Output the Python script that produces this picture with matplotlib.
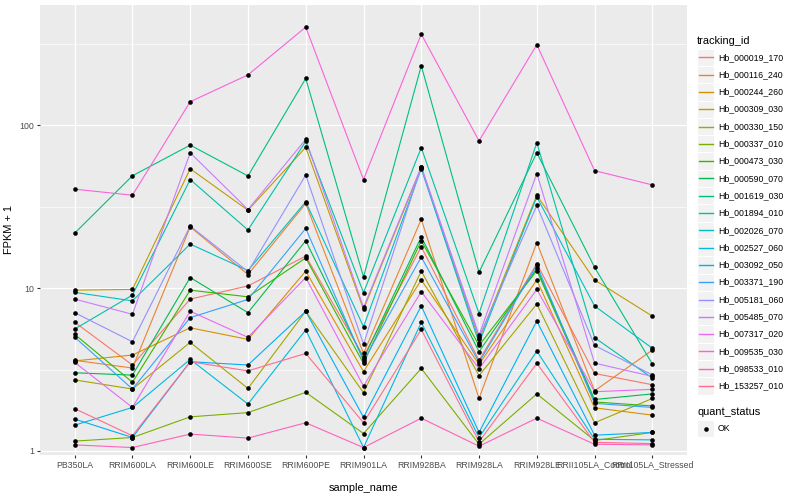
import matplotlib.pyplot as plt
from matplotlib.patches import Rectangle

# sample names on the x axis
samples = ["PB350LA", "RRIM600LA", "RRIM600LE", "RRIM600SE", "RRIM600PE",
           "RRIM901LA", "RRIM928BA", "RRIM928LA", "RRIM928LE",
           "RRII105LA_Control", "RRII105LA_Stressed"]

tracking_ids = ["Hb_000019_170", "Hb_000116_240", "Hb_000244_260", "Hb_000309_030",
                "Hb_000330_150", "Hb_000337_010", "Hb_000473_030", "Hb_000590_070",
                "Hb_001619_030", "Hb_001894_010", "Hb_002026_070", "Hb_002527_060",
                "Hb_003092_050", "Hb_003371_190", "Hb_005181_060", "Hb_005485_070",
                "Hb_007317_020", "Hb_009535_030", "Hb_098533_010", "Hb_153257_010"]

# FPKM + 1, one list per gene (same order as samples)
hb_000019_170 = [6.17, 3.37, 8.55, 10.3, 15.7, 3.79, 17.9, 3.6, 14.1, 2.99, 2.55]
hb_000116_240 = [3.6, 3.23, 23.7, 12.1, 33.0, 3.97, 26.4, 2.1, 19.0, 2.34, 4.16]
hb_000244_260 = [3.57, 3.88, 5.7, 4.84, 12.7, 3.07, 11.2, 3.4, 11.2, 1.84, 1.66]
hb_000309_030 = [9.7, 9.8, 53.9, 30.0, 73.0, 7.4, 54.7, 4.84, 37.1, 11.2, 6.72]
hb_000330_150 = [2.73, 2.4, 4.64, 2.42, 7.2, 2.28, 12.7, 2.9, 7.98, 1.49, 2.1]
hb_000337_010 = [1.15, 1.21, 1.62, 1.72, 2.29, 1.28, 3.21, 1.1, 2.24, 1.16, 1.3]
hb_000473_030 = [5.2, 2.64, 9.7, 8.83, 15.3, 3.45, 19.5, 4.44, 12.8, 2.0, 1.89]
hb_000590_070 = [3.02, 2.92, 11.6, 7.06, 19.5, 3.68, 20.6, 4.07, 13.2, 2.07, 2.24]
hb_001619_030 = [21.7, 48.8, 75.3, 48.7, 193.0, 11.7, 231.0, 12.5, 67.6, 13.4, 3.42]
hb_001894_010 = [5.6, 9.05, 46.3, 22.7, 79.3, 9.37, 72.6, 6.97, 77.9, 4.96, 2.8]
hb_002026_070 = [9.4, 8.34, 18.6, 12.8, 33.8, 5.79, 54.0, 4.6, 36.2, 7.76, 4.27]
hb_002527_060 = [1.44, 1.85, 3.65, 1.94, 5.53, 1.05, 6.15, 1.21, 4.1, 1.18, 1.17]
hb_003092_050 = [1.57, 1.21, 3.53, 3.37, 7.2, 1.61, 7.76, 1.3, 6.27, 1.25, 1.3]
hb_003371_190 = [5.0, 2.4, 6.58, 8.51, 23.2, 3.57, 15.5, 3.5, 13.8, 1.96, 1.85]
hb_005181_060 = [7.06, 4.68, 24.0, 12.6, 49.3, 4.53, 55.5, 4.98, 32.1, 4.44, 2.93]
hb_005485_070 = [8.55, 6.9, 67.6, 30.3, 81.6, 7.6, 55.5, 5.14, 50.4, 3.46, 2.87]
hb_007317_020 = [3.5, 1.85, 7.2, 4.98, 11.6, 2.5, 9.5, 3.2, 9.8, 2.31, 2.39]
hb_009535_030 = [40.4, 37.1, 139.0, 203.0, 399.0, 46.3, 361.0, 79.9, 311.0, 52.5, 42.9]
hb_098533_010 = [1.09, 1.05, 1.27, 1.2, 1.49, 1.05, 1.59, 1.07, 1.59, 1.1, 1.09]
hb_153257_010 = [1.82, 1.24, 3.53, 3.1, 3.97, 1.49, 5.57, 1.14, 3.45, 1.13, 1.11]

fpkm = [hb_000019_170, hb_000116_240, hb_000244_260, hb_000309_030, hb_000330_150,
        hb_000337_010, hb_000473_030, hb_000590_070, hb_001619_030, hb_001894_010,
        hb_002026_070, hb_002527_060, hb_003092_050, hb_003371_190, hb_005181_060,
        hb_005485_070, hb_007317_020, hb_009535_030, hb_098533_010, hb_153257_010]

# ggplot2 default hue palette for 20 levels
colors = ["#F8766D", "#EA8331", "#D89000", "#C09B00", "#A3A500", "#7CAE00", "#39B600",
          "#00BB4E", "#00BF7D", "#00C1A3", "#00BFC4", "#00BAE0", "#00B0F6", "#35A2FF",
          "#9590FF", "#C77CFF", "#E76BF3", "#FA62DB", "#FF62BC", "#FF6C91"]

plt.rcParams['font.family'] = ['Liberation Sans', 'DejaVu Sans']

W, H = 800, 500
fig = plt.figure(figsize=(8, 5), dpi=100)
fig.patch.set_facecolor('white')

# panel
left, right, top, bottom = 40, 687, 5, 455
ax = fig.add_axes([left / W, 1 - bottom / H, (right - left) / W, (bottom - top) / H])
ax.set_facecolor('#EBEBEB')
for s in ax.spines.values():
    s.set_visible(False)

x = list(range(len(samples)))
for vals, col in zip(fpkm, colors):
    ax.plot(x, vals, color=col, lw=0.8, zorder=2, solid_capstyle='butt')
for vals in fpkm:
    ax.scatter(x, vals, color='black', s=11, zorder=3, linewidths=0)

ax.set_yscale('log')
ax.set_ylim(0.945, 545)
ax.set_xlim(-0.6, len(samples) - 0.4)

ax.set_yticks([1, 10, 100])
ax.set_yticklabels(["1", "10", "100"])
ax.set_yticks([10 ** 0.5, 10 ** 1.5, 10 ** 2.5], minor=True)
ax.set_yticklabels([], minor=True)
ax.set_xticks(x)
ax.set_xticklabels(samples)
ax.tick_params(which='major', length=2.5, width=0.8, color='#333333',
               labelsize=6.3, labelcolor='#4D4D4D', pad=1.5)
ax.tick_params(which='minor', length=0)
ax.grid(which='major', color='white', lw=0.9)
ax.grid(which='minor', axis='y', color='white', lw=0.45)
ax.set_axisbelow(True)

ax.set_xlabel("sample_name", fontsize=7.9, labelpad=10)
ax.set_ylabel("FPKM + 1", fontsize=7.9, labelpad=4)

# legend drawn in pixel coordinates
lg = fig.add_axes([0, 0, 1, 1])
lg.set_xlim(0, W)
lg.set_ylim(H, 0)
lg.axis('off')
lg.patch.set_alpha(0)

kx, kw, step = 697, 17.3, 17.3
lg.text(kx, 40.5, "tracking_id", fontsize=7.9, va='center', ha='left')
y0 = 57.3
for i, (name, col) in enumerate(zip(tracking_ids, colors)):
    yc = y0 + i * step
    lg.add_patch(Rectangle((kx, yc - kw / 2), kw, kw, facecolor='#F2F2F2',
                           edgecolor='white', lw=0.8, zorder=1))
    lg.plot([kx + 1.7, kx + kw - 1.7], [yc, yc], color=col, lw=1.0, zorder=2)
    lg.text(kx + kw + 3.5, yc, name, fontsize=6.3, va='center', ha='left')

lg.text(kx, 412, "quant_status", fontsize=7.9, va='center', ha='left')
yc = 428.5
lg.add_patch(Rectangle((kx, yc - kw / 2), kw, kw, facecolor='#F2F2F2',
                       edgecolor='white', lw=0.8, zorder=1))
lg.scatter([kx + kw / 2], [yc], color='black', s=11, linewidths=0, zorder=2)
lg.text(kx + kw + 3.5, yc, "OK", fontsize=6.3, va='center', ha='left')

fig.savefig("out.png", dpi=100)
